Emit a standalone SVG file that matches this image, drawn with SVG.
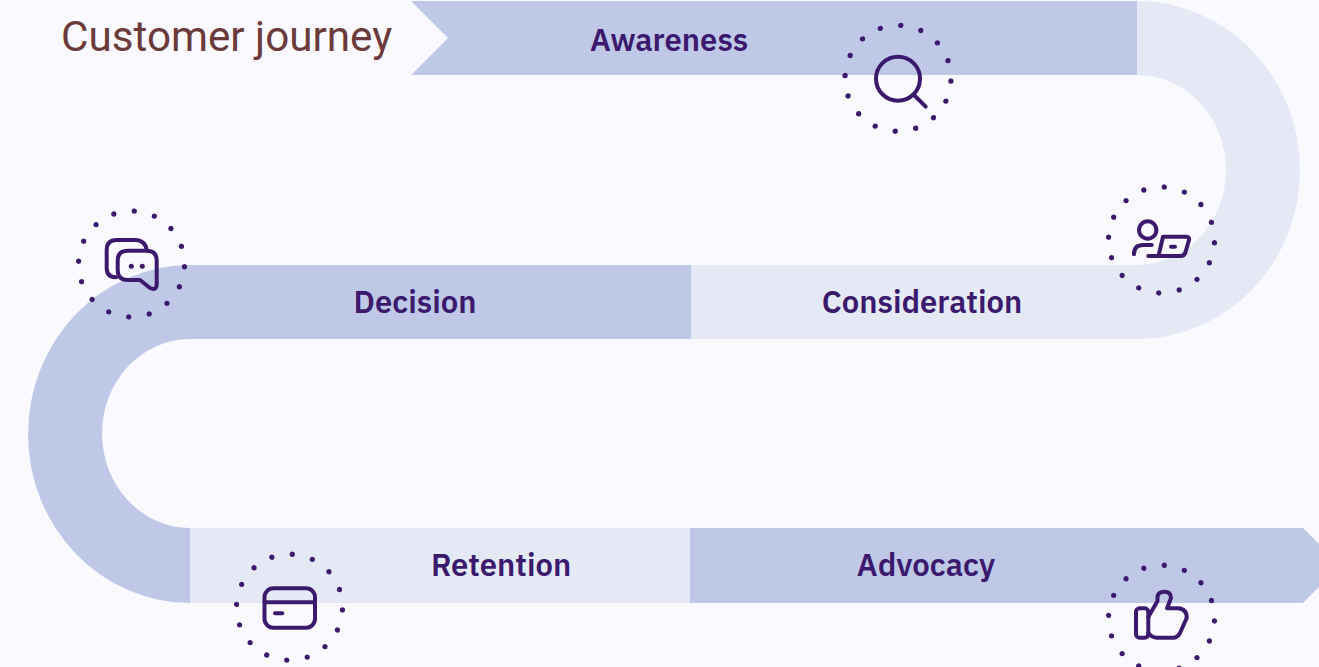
<svg xmlns="http://www.w3.org/2000/svg" width="1319" height="667" viewBox="0 0 1319 667">
<style>
.d{fill:#BFC9E7}.l{fill:#E5E9F6}
.t{font-family:"IBM Plex Sans",Inter,"Noto Sans",sans-serif;font-size:31px;font-weight:600;fill:#3B1A6E;text-anchor:middle}
.ring{fill:none;stroke:#3B1A6E;stroke-width:5.400;stroke-linecap:round;stroke-dasharray:0 1}
.i{fill:none;stroke:#3B1A6E;stroke-width:4;stroke-linecap:round;stroke-linejoin:round}
.f{fill:#3B1A6E}
</style>
<rect width="1319" height="667" fill="#F9F9FE"/>
<text id="title" x="61" y="51" font-family="Roboto,sans-serif" font-size="42.200" fill="#6B3A3A">Customer journey</text>
<g id="connectors">
<path class="l" d="M1137,1 A163,169 0 0 1 1137,339 H691 V265 H1137 A89,95 0 0 0 1137,75 Z"/>
<path class="d" d="M691,265 H190 A162,169 0 0 0 190,603 V528 A88,94.500 0 0 1 190,339 H691 Z"/>
<rect class="l" x="190" y="528" width="500" height="75"/>
</g>
<g id="awareness">
<path class="d" d="M411,1 H1137 V75 H411 L448,38 Z"/>
<text class="t" x="669" y="51">Awareness</text>
<circle class="ring" pathLength="16" cx="898" cy="78.300" r="53" transform="rotate(3 898 78.300)"/>
<circle class="i" cx="898" cy="78.700" r="22"/>
<path class="i" d="M915,96 L925.700,106.700"/>
</g>
<g id="consideration">
<text class="t" x="922" y="313">Consideration</text>
<circle class="ring" pathLength="16" cx="1161.500" cy="240" r="53" transform="rotate(3 1161.500 240)"/>
<circle class="i" cx="1147.700" cy="230" r="8.700"/>
<path class="i" d="M1134,254.300 Q1134,245 1143.300,245 H1151.700"/>
<path class="i" d="M1148.300,256 H1181 Q1184.500,256 1185.500,252 L1189,240 Q1189.500,236.700 1186,236.700 H1163 L1158.500,256"/>
<path class="i" d="M1171,246.700 H1175"/>
</g>
<g id="decision">
<text class="t" x="415" y="313">Decision</text>
<circle class="ring" pathLength="16" cx="131.500" cy="264" r="53" transform="rotate(3 131.500 264)"/>
<path class="i" d="M146.700,250 Q145,240 135,240 H116.700 Q106.700,240 106.700,250 V268 Q106.700,277.300 116,277.300"/>
<path class="i" d="M127.700,250.700 H146.700 Q156.700,250.700 156.700,260.700 V284 Q156.700,291 150,288 L140,280 H127.700 Q117.700,280 117.700,270 V260.700 Q117.700,250.700 127.700,250.700 Z"/>
<circle class="f" cx="131.300" cy="266.300" r="2.500"/>
<circle class="f" cx="142.300" cy="266.300" r="2.500"/>
</g>
<g id="retention">
<text class="t" x="501" y="576">Retention</text>
<circle class="ring" pathLength="16" cx="289.500" cy="607.200" r="53" transform="rotate(3 289.500 607.200)"/>
<rect class="i" x="264.500" y="588.300" width="50.500" height="39.400" rx="9"/>
<path class="i" d="M264.500,602.300 H315 M275,613.300 H282.300"/>
</g>
<g id="advocacy">
<path class="d" d="M690,528 H1303 L1319,544 V587 L1303,603 H690 Z"/>
<text class="t" x="926" y="576">Advocacy</text>
<circle class="ring" pathLength="16" cx="1161.500" cy="618.200" r="53" transform="rotate(3 1161.500 618.200)"/>
<rect class="i" x="1136" y="608.300" width="12.300" height="29.400" rx="3.500"/>
<path class="i" d="M1148.300,617 L1157.500,601 V597 Q1158,591.700 1164.300,591.700 Q1171,591.700 1171,598 L1167,608.300 H1178 Q1187,609 1186.700,618 L1180,633 Q1177.500,637.700 1173,637.700 H1157 Q1152,637.700 1148.300,633"/>
</g>
</svg>
